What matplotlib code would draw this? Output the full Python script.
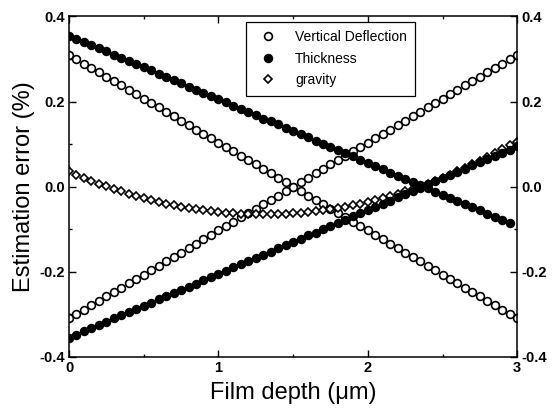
import numpy as np
import matplotlib
matplotlib.use("Agg")
import matplotlib.pyplot as plt
from matplotlib.ticker import MultipleLocator, FormatStrFormatter

plt.rcParams['font.family'] = ['Liberation Sans', 'DejaVu Sans']

# film depth grid (um), step 0.05
depth = np.linspace(0, 3, 61)

# vertical deflection: two branches
vd_down = [0.310, 0.300, 0.289, 0.279, 0.269, 0.258, 0.248, 0.238, 0.227, 0.217,
           0.207, 0.196, 0.186, 0.176, 0.165, 0.155, 0.145, 0.134, 0.124, 0.114,
           0.103, 0.093, 0.083, 0.072, 0.062, 0.052, 0.041, 0.031, 0.021, 0.010,
           0.000, -0.010, -0.021, -0.031, -0.041, -0.052, -0.062, -0.072, -0.083, -0.093,
           -0.103, -0.114, -0.124, -0.134, -0.145, -0.155, -0.165, -0.176, -0.186, -0.196,
           -0.207, -0.217, -0.227, -0.238, -0.248, -0.258, -0.269, -0.279, -0.289, -0.300,
           -0.310]
vd_up = [-0.310, -0.300, -0.289, -0.279, -0.269, -0.258, -0.248, -0.238, -0.227, -0.217,
         -0.207, -0.196, -0.186, -0.176, -0.165, -0.155, -0.145, -0.134, -0.124, -0.114,
         -0.103, -0.093, -0.083, -0.072, -0.062, -0.052, -0.041, -0.031, -0.021, -0.010,
         0.000, 0.010, 0.021, 0.031, 0.041, 0.052, 0.062, 0.072, 0.083, 0.093,
         0.103, 0.114, 0.124, 0.134, 0.145, 0.155, 0.165, 0.176, 0.186, 0.196,
         0.207, 0.217, 0.227, 0.238, 0.248, 0.258, 0.269, 0.279, 0.289, 0.300,
         0.310]

# thickness: two branches (descending one stops at 2.95)
th_down = [0.355, 0.348, 0.340, 0.333, 0.325, 0.318, 0.310, 0.303, 0.295, 0.288,
           0.280, 0.273, 0.265, 0.258, 0.250, 0.243, 0.235, 0.228, 0.220, 0.213,
           0.205, 0.198, 0.190, 0.183, 0.175, 0.168, 0.160, 0.153, 0.146, 0.138,
           0.131, 0.123, 0.116, 0.108, 0.101, 0.093, 0.086, 0.078, 0.071, 0.063,
           0.056, 0.048, 0.041, 0.033, 0.026, 0.018, 0.011, 0.003, -0.004, -0.012,
           -0.019, -0.026, -0.034, -0.041, -0.049, -0.056, -0.064, -0.071, -0.079, -0.086]
th_up = [-0.355, -0.348, -0.340, -0.333, -0.325, -0.318, -0.310, -0.303, -0.295, -0.288,
         -0.280, -0.273, -0.265, -0.258, -0.250, -0.243, -0.235, -0.228, -0.220, -0.213,
         -0.205, -0.198, -0.190, -0.183, -0.175, -0.168, -0.160, -0.153, -0.145, -0.138,
         -0.130, -0.123, -0.115, -0.108, -0.100, -0.093, -0.085, -0.078, -0.070, -0.063,
         -0.055, -0.048, -0.040, -0.033, -0.025, -0.018, -0.010, -0.003, 0.005, 0.012,
         0.020, 0.027, 0.035, 0.042, 0.050, 0.057, 0.065, 0.072, 0.080, 0.087,
         0.095]

# gravity
grav = [0.036, 0.028, 0.021, 0.014, 0.007, 0.001, -0.005, -0.011, -0.017, -0.022,
        -0.027, -0.031, -0.036, -0.040, -0.043, -0.047, -0.050, -0.053, -0.055, -0.058,
        -0.060, -0.061, -0.063, -0.064, -0.064, -0.065, -0.065, -0.065, -0.064, -0.064,
        -0.063, -0.061, -0.060, -0.058, -0.055, -0.053, -0.050, -0.047, -0.043, -0.040,
        -0.036, -0.031, -0.027, -0.022, -0.017, -0.011, -0.005, 0.001, 0.007, 0.014,
        0.021, 0.028, 0.036, 0.044, 0.052, 0.061, 0.070, 0.079, 0.088, 0.098,
        0.105]

fig = plt.figure(figsize=(5.52, 4.16), dpi=100)
ax = fig.add_axes([0.125, 0.1425, 0.812, 0.818])

ms = 5.6
mew = 1.2
ax.plot(depth, vd_down, 'o', mfc='white', mec='black', ms=ms, mew=mew, label='Vertical Deflection')
ax.plot(depth, vd_up, 'o', mfc='white', mec='black', ms=ms, mew=mew)
ax.plot(depth, grav, 'D', mfc='white', mec='black', ms=4.4, mew=mew, label='gravity')
ax.plot(depth[:len(th_down)], th_down, 'o', mfc='black', mec='black', ms=ms, mew=mew, label='Thickness')
ax.plot(depth, th_up, 'o', mfc='black', mec='black', ms=ms, mew=mew)

ax.set_xlim(0, 3)
ax.set_ylim(-0.4, 0.4)
ax.xaxis.set_major_locator(MultipleLocator(1))
ax.xaxis.set_minor_locator(MultipleLocator(0.5))
ax.yaxis.set_major_locator(MultipleLocator(0.2))
ax.yaxis.set_minor_locator(MultipleLocator(0.1))
ax.yaxis.set_major_formatter(FormatStrFormatter('%.1f'))

ax.tick_params(which='both', direction='in', top=True, right=True, labelright=True)
ax.tick_params(which='major', length=5, width=1)
ax.tick_params(which='minor', length=2.5, width=1)
ax.tick_params(axis='both', labelsize=10.5, pad=3)
for t in ax.yaxis.get_major_ticks():
    t.label1.set_fontweight('bold')
    t.label2.set_fontweight('bold')
for t in ax.xaxis.get_major_ticks():
    t.label1.set_fontweight('bold')

for sp in ax.spines.values():
    sp.set_linewidth(1.1)

ax.set_xlabel('Film depth (\u03bcm)', fontsize=17, labelpad=5)
ax.set_ylabel('Estimation error (%)', fontsize=17, labelpad=3)

h, l = ax.get_legend_handles_labels()
order = [0, 2, 1]
leg = ax.legend([h[i] for i in order], [l[i] for i in order],
                loc='upper left', bbox_to_anchor=(0.38, 1.005), fontsize=10,
                frameon=True, fancybox=False, edgecolor='black', framealpha=1,
                handletextpad=0.9, borderpad=0.6, labelspacing=0.55, handlelength=2.0)
leg.get_frame().set_linewidth(0.9)

fig.savefig('out.png', dpi=100)
